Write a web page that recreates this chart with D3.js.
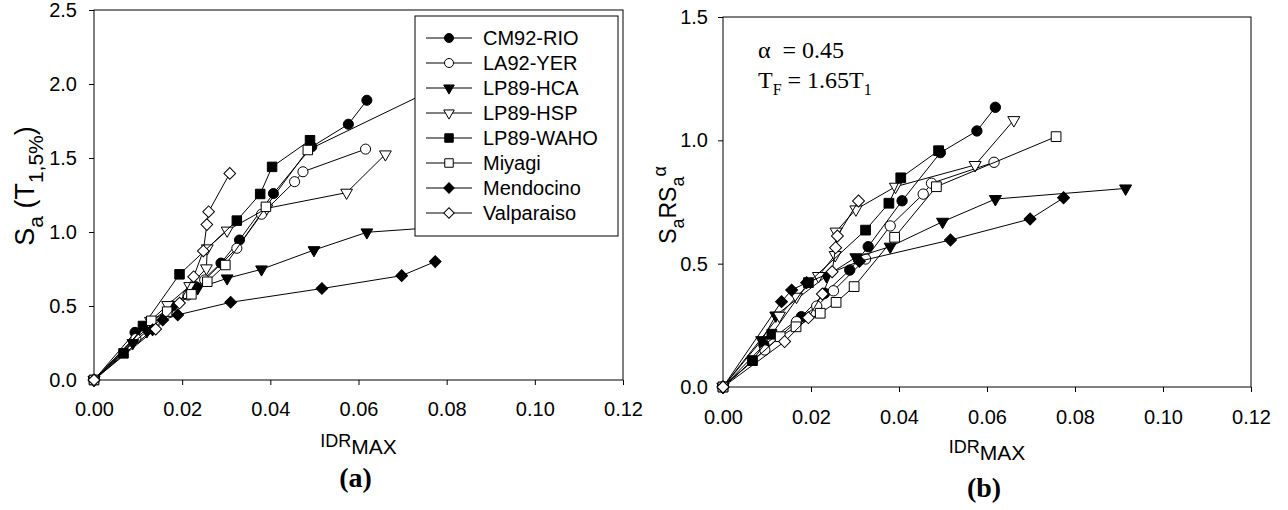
<!DOCTYPE html>
<html>
<head>
<meta charset="utf-8">
<script src="https://d3js.org/d3.v7.min.js"></script>
<style>
  body { margin: 0; background: #fff; }
  .axis text { font-family: "Liberation Sans", Arial, sans-serif; font-size: 20px; fill: #000; }
  .axis path { display: none; }
  .axis line { stroke: #000; stroke-width: 1; }
  .frame { fill: none; stroke: #000; stroke-width: 1; }
  .sans { font-family: "Liberation Sans", Arial, sans-serif; }
  .serif { font-family: "Liberation Serif", "Times New Roman", serif; }
</style>
</head>
<body>
<svg width="1288" height="510"></svg>
<script>
// tick labels
const xTicks  = [0, 0.02, 0.04, 0.06, 0.08, 0.10, 0.12];
const yTicksA = [0, 0.5, 1.0, 1.5, 2.0, 2.5];
const yTicksB = [0, 0.5, 1.0, 1.5];

const seriesNames = ["CM92-RIO", "LA92-YER", "LP89-HCA", "LP89-HSP",
                     "LP89-WAHO", "Miyagi", "Mendocino", "Valparaiso"];

// IDR max (shared by both panels), Sa(T1) for (a), SaRSa^alpha for (b)
const idrCM92 = [0, 0.0093, 0.0178, 0.0231, 0.0288, 0.033, 0.0407, 0.0494, 0.0577, 0.0619];
const saCM92  = [0, 0.322, 0.50, 0.63, 0.79, 0.946, 1.26, 1.576, 1.728, 1.89];
const rsCM92  = [0, 0.17, 0.285, 0.38, 0.474, 0.569, 0.755, 0.95, 1.038, 1.134];

const idrLA92 = [0, 0.0095, 0.0167, 0.0213, 0.0251, 0.0324, 0.038, 0.0455, 0.0474, 0.0616];
const saLA92  = [0, 0.28, 0.47, 0.574, 0.676, 0.89, 1.12, 1.34, 1.407, 1.56];
const rsLA92  = [0, 0.15, 0.265, 0.328, 0.39, 0.519, 0.653, 0.782, 0.826, 0.911];

const idrHCA = [0, 0.0088, 0.012, 0.0235, 0.0302, 0.038, 0.0499, 0.0619, 0.0915];
const saHCA  = [0, 0.25, 0.33, 0.62, 0.687, 0.748, 0.878, 0.998, 1.06];
const rsHCA  = [0, 0.19, 0.29, 0.45, 0.526, 0.569, 0.67, 0.762, 0.805];

const idrHSP = [0, 0.0128, 0.0167, 0.0217, 0.0255, 0.0257, 0.0302, 0.0392, 0.0573, 0.0661];
const saHSP  = [0, 0.40, 0.507, 0.635, 0.755, 0.89, 1.01, 1.16, 1.266, 1.525];
const rsHSP  = [0, 0.289, 0.366, 0.45, 0.535, 0.63, 0.72, 0.812, 0.90, 1.082];

const idrWAHO = [0, 0.0067, 0.0111, 0.0194, 0.0324, 0.0377, 0.0404, 0.049];
const saWAHO  = [0, 0.18, 0.365, 0.714, 1.077, 1.257, 1.44, 1.62];
const rsWAHO  = [0, 0.107, 0.214, 0.423, 0.636, 0.745, 0.848, 0.958];

const idrMiyagi = [0, 0.013, 0.0166, 0.0221, 0.0257, 0.0298, 0.039, 0.0485, 0.0757];
const saMiyagi  = [0, 0.40, 0.462, 0.579, 0.664, 0.777, 1.17, 1.554, 1.945];
const rsMiyagi  = [0, 0.204, 0.244, 0.299, 0.343, 0.407, 0.607, 0.812, 1.015];

const idrMendo = [0, 0.0133, 0.0156, 0.019, 0.031, 0.0517, 0.0698, 0.0774];
const saMendo  = [0, 0.34, 0.405, 0.44, 0.525, 0.618, 0.705, 0.80];
const rsMendo  = [0, 0.346, 0.393, 0.423, 0.51, 0.596, 0.681, 0.767];

const idrValpo = [0, 0.014, 0.0194, 0.0226, 0.0248, 0.0256, 0.026, 0.0308];
const saValpo  = [0, 0.344, 0.52, 0.698, 0.872, 1.05, 1.137, 1.396];
const rsValpo  = [0, 0.184, 0.281, 0.377, 0.467, 0.565, 0.612, 0.754];

const idrAll = [idrCM92, idrLA92, idrHCA, idrHSP, idrWAHO, idrMiyagi, idrMendo, idrValpo];
const saAll  = [saCM92, saLA92, saHCA, saHSP, saWAHO, saMiyagi, saMendo, saValpo];
const rsAll  = [rsCM92, rsLA92, rsHCA, rsHSP, rsWAHO, rsMiyagi, rsMendo, rsValpo];

// marker look per series
const markers = [
  {shape: "circle",  fill: "#000"}, {shape: "circle",  fill: "#fff"},
  {shape: "tri",     fill: "#000"}, {shape: "tri",     fill: "#fff"},
  {shape: "square",  fill: "#000"}, {shape: "square",  fill: "#fff"},
  {shape: "diamond", fill: "#000"}, {shape: "diamond", fill: "#fff"}
];

const svg = d3.select("svg");

function symbolPath(shape, k) {
  k = k || 1;
  if (shape == "circle")  return d3.symbol(d3.symbolCircle, 80 * k)();
  if (shape == "tri")     return d3.symbol(d3.symbolTriangle, 60 * k)();
  if (shape == "square")  return d3.symbol(d3.symbolSquare, 90 * k)();
  return d3.symbol(d3.symbolSquare, 68 * k)();
}
function symbolRot(shape) {
  if (shape == "tri") return 180;
  if (shape == "diamond") return 45;
  return 0;
}

// text with sub/superscripts, parts = [[text, kind, size]]
function richText(g, parts, baseSize) {
  let shift = 0;
  parts.forEach(p => {
    const kind = p[1] || "", size = p[2] || baseSize;
    let target = 0;
    if (kind == "sub") target = baseSize * 0.35;
    if (kind == "sup") target = -baseSize * 0.45;
    g.append("tspan").attr("dy", target - shift).style("font-size", size + "px").text(p[0]);
    shift = target;
  });
}

function drawPanel(cfg) {
  const x = d3.scaleLinear().domain([0, 0.12]).range([cfg.left, cfg.right]);
  const y = d3.scaleLinear().domain([0, cfg.ymax]).range([cfg.bottom, cfg.top]);

  svg.append("g").attr("class", "axis")
    .attr("transform", `translate(0,${cfg.bottom})`)
    .call(d3.axisBottom(x).tickValues(xTicks).tickFormat(d3.format(".2f"))
      .tickSizeInner(5).tickSizeOuter(0).tickPadding(cfg.xPad));
  svg.append("g").attr("class", "axis")
    .attr("transform", `translate(${cfg.left},0)`)
    .call(d3.axisLeft(y).tickValues(cfg.yTicks).tickFormat(d3.format(".1f"))
      .tickSizeInner(5).tickSizeOuter(0).tickPadding(cfg.yPad));

  svg.append("rect").attr("class", "frame")
    .attr("x", cfg.left).attr("y", cfg.top)
    .attr("width", cfg.right - cfg.left).attr("height", cfg.bottom - cfg.top);

  const line = d3.line().x(d => x(d[0])).y(d => y(d[1]));
  const plot = svg.append("g");
  cfg.values.forEach((vals, i) => {
    const pts = idrAll[i].map((v, j) => [v, vals[j]]);
    const m = markers[i];
    const g = plot.append("g");
    g.append("path").datum(pts).attr("d", line)
      .attr("fill", "none").attr("stroke", "#000").attr("stroke-width", 1);
    g.selectAll("path.mk").data(pts).enter().append("path")
      .attr("class", "mk")
      .attr("d", symbolPath(m.shape, cfg.mk))
      .attr("transform", d => `translate(${x(d[0])},${y(d[1])}) rotate(${symbolRot(m.shape)})`)
      .attr("fill", m.fill).attr("stroke", "#000").attr("stroke-width", 1);
  });

  // x title IDR_MAX
  const xt = svg.append("text").attr("class", "sans")
    .attr("x", (cfg.left + cfg.right) / 2).attr("y", cfg.xTitleY)
    .attr("text-anchor", "middle").style("font-size", "18px");
  richText(xt, [["IDR", "", 18], ["MAX", "sub", 21]], 20);

  // panel letter
  svg.append("text").attr("class", "serif")
    .attr("x", (cfg.left + cfg.right) / 2 - 3).attr("y", cfg.letterY)
    .attr("text-anchor", "middle").style("font-size", "28px").style("font-weight", "bold")
    .text(cfg.letter);

  return {x, y};
}

// panel (a)
drawPanel({left: 94, right: 623, top: 10, bottom: 380, ymax: 2.5, yTicks: yTicksA,
  values: saAll, xPad: 17, yPad: 12, xTitleY: 447, letterY: 487, letter: "(a)", mk: 1});

const ya = svg.append("text").attr("class", "sans")
  .attr("transform", "translate(34,186) rotate(-90)")
  .attr("text-anchor", "middle").style("font-size", "27px");
richText(ya, [["S", "", 27], ["a", "sub", 21], [" (T", "", 27], ["1,5%", "sub", 21], [")", "", 27]], 27);

// legend of panel (a)
const leg = svg.append("g");
leg.append("rect").attr("x", 415).attr("y", 16).attr("width", 203).attr("height", 220)
  .attr("fill", "#fff").attr("stroke", "#000").attr("stroke-width", 1);
seriesNames.forEach((name, i) => {
  const cy = 38 + i * 25;
  const m = markers[i];
  leg.append("line").attr("x1", 426).attr("x2", 472).attr("y1", cy).attr("y2", cy)
    .attr("stroke", "#000").attr("stroke-width", 1);
  leg.append("path").attr("d", symbolPath(m.shape, 0.8))
    .attr("transform", `translate(449,${cy}) rotate(${symbolRot(m.shape)})`)
    .attr("fill", m.fill).attr("stroke", "#000");
  leg.append("text").attr("class", "sans").attr("x", 483).attr("y", cy + 7)
    .style("font-size", "20px").text(name);
});

// panel (b)
drawPanel({left: 723, right: 1251, top: 17, bottom: 387, ymax: 1.5, yTicks: yTicksB,
  values: rsAll, xPad: 18, yPad: 10, xTitleY: 453, letterY: 497, letter: "(b)", mk: 1.05});

const yb = svg.append("text").attr("class", "sans")
  .attr("transform", "translate(676,205) rotate(-90)")
  .attr("text-anchor", "middle").style("font-size", "23px");
richText(yb, [["S", "", 23], ["a", "sub", 18], ["RS", "", 23], ["a", "sub", 18], ["α", "sup", 18]], 23);

const a1 = svg.append("text").attr("class", "serif").attr("x", 758).attr("y", 58)
  .style("font-size", "24px");
a1.text("α\u00a0\u00a0= 0.45");
const a2 = svg.append("text").attr("class", "serif").attr("x", 758).attr("y", 88)
  .style("font-size", "24px");
richText(a2, [["T", "", 24], ["F", "sub", 16], [" = 1.65T", "", 24], ["1", "sub", 16]], 20);
</script>
</body>
</html>
